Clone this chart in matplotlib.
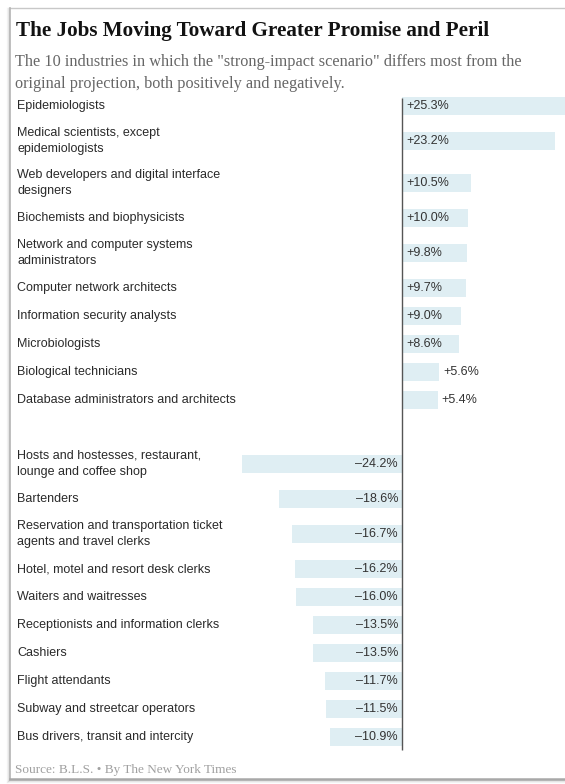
"""
就业前景变化条形图
正向 / 负向各 10 个职业, 左侧为职业名称, 右侧为变化百分比
"""
import matplotlib
matplotlib.use('Agg')
import matplotlib.pyplot as plt
from matplotlib.transforms import blended_transform_factory

# 数据
POS_JOBS = [
    'Epidemiologists',
    'Medical scientists, except\nepidemiologists',
    'Web developers and digital interface\ndesigners',
    'Biochemists and biophysicists',
    'Network and computer systems\nadministrators',
    'Computer network architects',
    'Information security analysts',
    'Microbiologists',
    'Biological technicians',
    'Database administrators and architects',
]
POS_CHANGE = [25.3, 23.2, 10.5, 10.0, 9.8, 9.7, 9.0, 8.6, 5.6, 5.4]

NEG_JOBS = [
    'Hosts and hostesses, restaurant,\nlounge and coffee shop',
    'Bartenders',
    'Reservation and transportation ticket\nagents and travel clerks',
    'Hotel, motel and resort desk clerks',
    'Waiters and waitresses',
    'Receptionists and information clerks',
    'Cashiers',
    'Flight attendants',
    'Subway and streetcar operators',
    'Bus drivers, transit and intercity',
]
NEG_CHANGE = [-24.2, -18.6, -16.7, -16.2, -16.0, -13.5, -13.5, -11.7, -11.5, -10.9]

TITLE = 'The Jobs Moving Toward Greater Promise and Peril'
SUBTITLE = [
    'The 10 industries in which the "strong-impact scenario" differs most from the',
    'original projection, both positively and negatively.',
]
SOURCE = 'Source: B.L.S. \u2022 By The New York Times'


def plot_jobs_chart(save_path: str = 'out.png'):
    W, H = 565, 784
    fig = plt.figure(figsize=(W / 100, H / 100), dpi=100)
    fig.patch.set_facecolor('white')

    serif = ['Liberation Serif', 'DejaVu Serif']
    sans = ['Liberation Sans', 'DejaVu Sans']

    # 外框 (像素坐标)
    bg = fig.add_axes([0, 0, 1, 1], zorder=0)
    bg.set_xlim(0, W)
    bg.set_ylim(H, 0)
    bg.axis('off')
    for d, a in [(3, 0.08), (2, 0.15), (1, 0.25)]:
        bg.plot([10 - d, 10 - d], [8, 779 + d], color='#888888', lw=1, alpha=a)
        bg.plot([10 - d, W], [779 + d, 779 + d], color='#888888', lw=1, alpha=a)
    bg.plot([10, W], [8, 8], color='#c8c8c8', lw=1)
    bg.plot([10, 10], [8, 779], color='#b5b5b5', lw=1.2)
    bg.plot([10, W], [779, 779], color='#a8a8a8', lw=1.8)

    # 标题 / 副标题 / 来源
    fig.text(16 / W, 1 - 36 / H, TITLE, fontsize=15.2, fontweight='bold',
             family=serif, color='#121212', va='baseline')
    for i, line in enumerate(SUBTITLE):
        fig.text(15 / W, 1 - (66 + 22 * i) / H, line, fontsize=11.7, family=serif,
                 color='#666666', va='baseline')
    fig.text(15 / W, 1 - 770 / H, SOURCE, fontsize=9.5, family=serif,
             color='#a0a0a0', va='center')

    # 每行高度取决于标签行数
    single, double, gap = 28, 42, 29
    top_px = 92
    ys, labels, values = [], [], []
    cur = 0
    for jobs, changes in [(POS_JOBS, POS_CHANGE), (NEG_JOBS, NEG_CHANGE)]:
        if ys:
            cur += gap
        for job, val in zip(jobs, changes):
            h = double if '\n' in job else single
            ys.append(cur + h / 2)
            labels.append(job)
            values.append(val)
            cur += h
    total = cur

    zero_px, px_per_pct = 402, 6.6
    ax = fig.add_axes([0, 1 - (top_px + total) / H, 1, total / H], zorder=1)
    ax.patch.set_alpha(0)
    ax.set_xlim(-zero_px / px_per_pct, (W - zero_px) / px_per_pct)
    ax.set_ylim(total, 0)
    ax.axis('off')

    ax.barh(ys, values, height=18, color='#dfeef3', zorder=1)
    ax.vlines(0, 6, total - 1, color='#555555', lw=1, zorder=2)

    label_tf = blended_transform_factory(fig.transFigure, ax.transData)
    for y, job, val in zip(ys, labels, values):
        ax.text(17 / W, y, job, transform=label_tf, fontsize=9, family=sans,
                color='#2a2a2a', va='center', ha='left', linespacing=1.45)
        if val < 0:
            txt = f'\u2013{abs(val):.1f}%'
            ax.annotate(txt, xy=(0, y), xytext=(-4, 0), textcoords='offset pixels',
                        ha='right', va='center', fontsize=9, family=sans, color='#333333')
        else:
            txt = f'+{val:.1f}%'
            # 条太短时标签放在条外
            x0 = 0 if val >= 7 else val
            ax.annotate(txt, xy=(x0, y), xytext=(4, 0), textcoords='offset pixels',
                        ha='left', va='center', fontsize=9, family=sans, color='#333333')

    fig.savefig(save_path, dpi=100, facecolor='white')
    plt.close(fig)


if __name__ == '__main__':
    plot_jobs_chart('out.png')
